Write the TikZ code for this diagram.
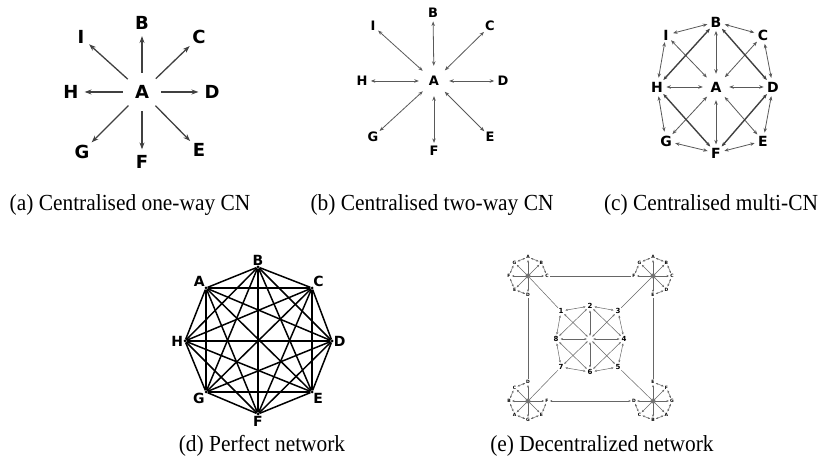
\documentclass[tikz,border=0pt]{standalone}
\usepackage{fontspec}
\setmainfont{Liberation Serif}[FakeStretch=0.93]
\newfontfamily\letterfont{DejaVu Sans}
\usetikzlibrary{arrows.meta}
\tikzset{
  lettera/.style={circle,inner sep=1pt,font=\letterfont\bfseries\fontsize{18}{18}\selectfont},
  letterb/.style={circle,inner sep=1pt,font=\letterfont\bfseries\fontsize{13}{13}\selectfont},
  letterc/.style={circle,inner sep=1pt,font=\letterfont\bfseries\fontsize{14}{14}\selectfont},
  letterd/.style={inner sep=0pt,font=\letterfont\bfseries\fontsize{14}{14}\selectfont},
  ringlab/.style={circle,inner sep=0.5pt,font=\letterfont\bfseries\fontsize{7}{7}\selectfont},
  wheellab/.style={circle,inner sep=0.3pt,font=\letterfont\bfseries\fontsize{4.5}{4.5}\selectfont},
  caption/.style={font=\fontsize{23}{23}\selectfont},
  oneway/.style={line width=1.3pt,draw=black!75,-{Stealth[length=7pt,width=5pt]},shorten >=2pt},
  twoway/.style={line width=0.8pt,draw=black!65,{Stealth[length=4.5pt,width=3.5pt]}-{Stealth[length=4.5pt,width=3.5pt]}},
  thickway/.style={twoway,line width=1.4pt,draw=black!75},
  tinyway/.style={line width=0.5pt,draw=black!60,{Stealth[length=2.5pt,width=2pt]}-{Stealth[length=2.5pt,width=2pt]}},
  mesh/.style={line width=1.5pt},
  dot/.style={circle,fill=black,inner sep=0pt,minimum size=3pt},
}
\begin{document}
\begin{tikzpicture}[x=1pt,y=1pt]
	\useasboundingbox (0,0) rectangle (826,462);
	\node [lettera,minimum size=38pt] (aA) at (142,370) {A};
	\foreach \l/\x/\y in {B/142/439,C/199/425,D/212/370,E/199/312,F/142/300,G/82/310,H/71/370,I/81/425}{
		\node [lettera] (a\l) at (\x,\y) {\l};
		\draw [oneway] (aA) -- (a\l);
	}
	\node [caption] (capa) at (130,257) {(a) Centralised one-way CN};
	\node [letterb,minimum size=30pt] (bA) at (434,381) {A};
	\foreach \l/\x/\y in {B/433/449,C/490/436,D/503/381,E/490/325,F/434/311,G/373/325,H/362/381,I/373/436}{
		\node [letterb] (b\l) at (\x,\y) {\l};
		\draw [twoway] (bA) -- (b\l);
	}
	\node [caption] (capb) at (432,257) {(b) Centralised two-way CN};
	\node [letterc,minimum size=26pt] (cA) at (716,375) {A};
	\foreach \l/\x/\y in {B/716/440,C/763/427,D/773/375,E/763/321,F/716/309,G/666/321,H/657/375,I/666/427}{
		\node [letterc] (c\l) at (\x,\y) {\l};
		\draw [twoway] (cA) -- (c\l);
	}
	\foreach \i/\j in {B/C,C/D,D/E,E/F,F/G,G/H,H/I,I/B}{
		\draw [twoway] (c\i) -- (c\j);
	}
	\foreach \i/\j in {B/H,B/D,D/F,F/H}{
		\draw [thickway] (c\i) -- (c\j);
	}
	\node [caption] (capc) at (711,257) {(c) Centralised multi-CN};
	\foreach \n/\l/\x/\y/\p in {1/A/206/174/above left,2/B/258/195/above,3/C/312/174/above right,4/D/332/121/right,5/E/312/70/below right,6/F/258/48/below,7/G/206/70/below left,8/H/185/121/left}{
		\node [dot,label={[letterd]\p:\l}] (d\n) at (\x,\y) {};
	}
	\foreach \i in {1,...,7}{
		\pgfmathtruncatemacro\s{\i+1}
		\foreach \j in {\s,...,8}{
			\draw [mesh] (d\i) -- (d\j);
		}
	}
	\node [caption] (capd) at (262,16) {(d) Perfect network};
	\node [circle,minimum size=6pt,inner sep=0pt] (e0) at (590,123) {};
	\foreach \n/\x/\y in {1/561/151,2/590/156,3/618/151,4/624/123,5/618/95,6/590/90,7/561/95,8/556/123}{
		\node [ringlab] (e\n) at (\x,\y) {\n};
		\draw [tinyway] (e0) -- (e\n);
	}
	\foreach \i/\j in {1/2,2/3,3/4,4/5,5/6,6/7,7/8,8/1,2/4,4/6,6/8,8/2}{
		\draw [tinyway] (e\i) -- (e\j);
	}
	\foreach \w/\x/\y/\k/\lst in {tl/528/186/1/{90/A,45/B,0/C,270/D,225/E,180/F,135/G},tr/653/186/3/{90/A,45/B,0/C,315/D,270/E,180/F,135/G},bl/528/61/7/{90/D,135/C,180/B,225/A,270/G,315/E,0/F},br/653/61/5/{90/E,45/F,0/G,315/A,270/B,225/C,180/D}}{
		\coordinate (\w) at (\x,\y);
		\draw [line width=0.5pt,draw=black!60] (\w) -- (e\k);
		\foreach \a/\l in \lst{
			\node [wheellab] (\w\l) at ([shift={(\a:19)}]\w) {\l};
			\draw [tinyway] (\w) -- (\w\l);
		}
	}
	\foreach \w/\i/\j in {tl/D/E,tl/E/F,tl/F/G,tl/G/A,tl/A/B,tl/B/C,tr/F/G,tr/G/A,tr/A/B,tr/B/C,tr/C/D,tr/D/E,bl/D/C,bl/C/B,bl/B/A,bl/A/G,bl/G/E,bl/E/F,br/D/C,br/C/B,br/B/A,br/A/G,br/G/F,br/F/E}{
		\draw [tinyway] (\w\i) -- (\w\j);
	}
	\draw [tinyway] (tlC) -- (trF) (tlD) -- (blD) (trE) -- (brE) (blF) -- (brD);
	\node [caption] (cape) at (602,16) {(e) Decentralized network};
\end{tikzpicture}
\end{document}
